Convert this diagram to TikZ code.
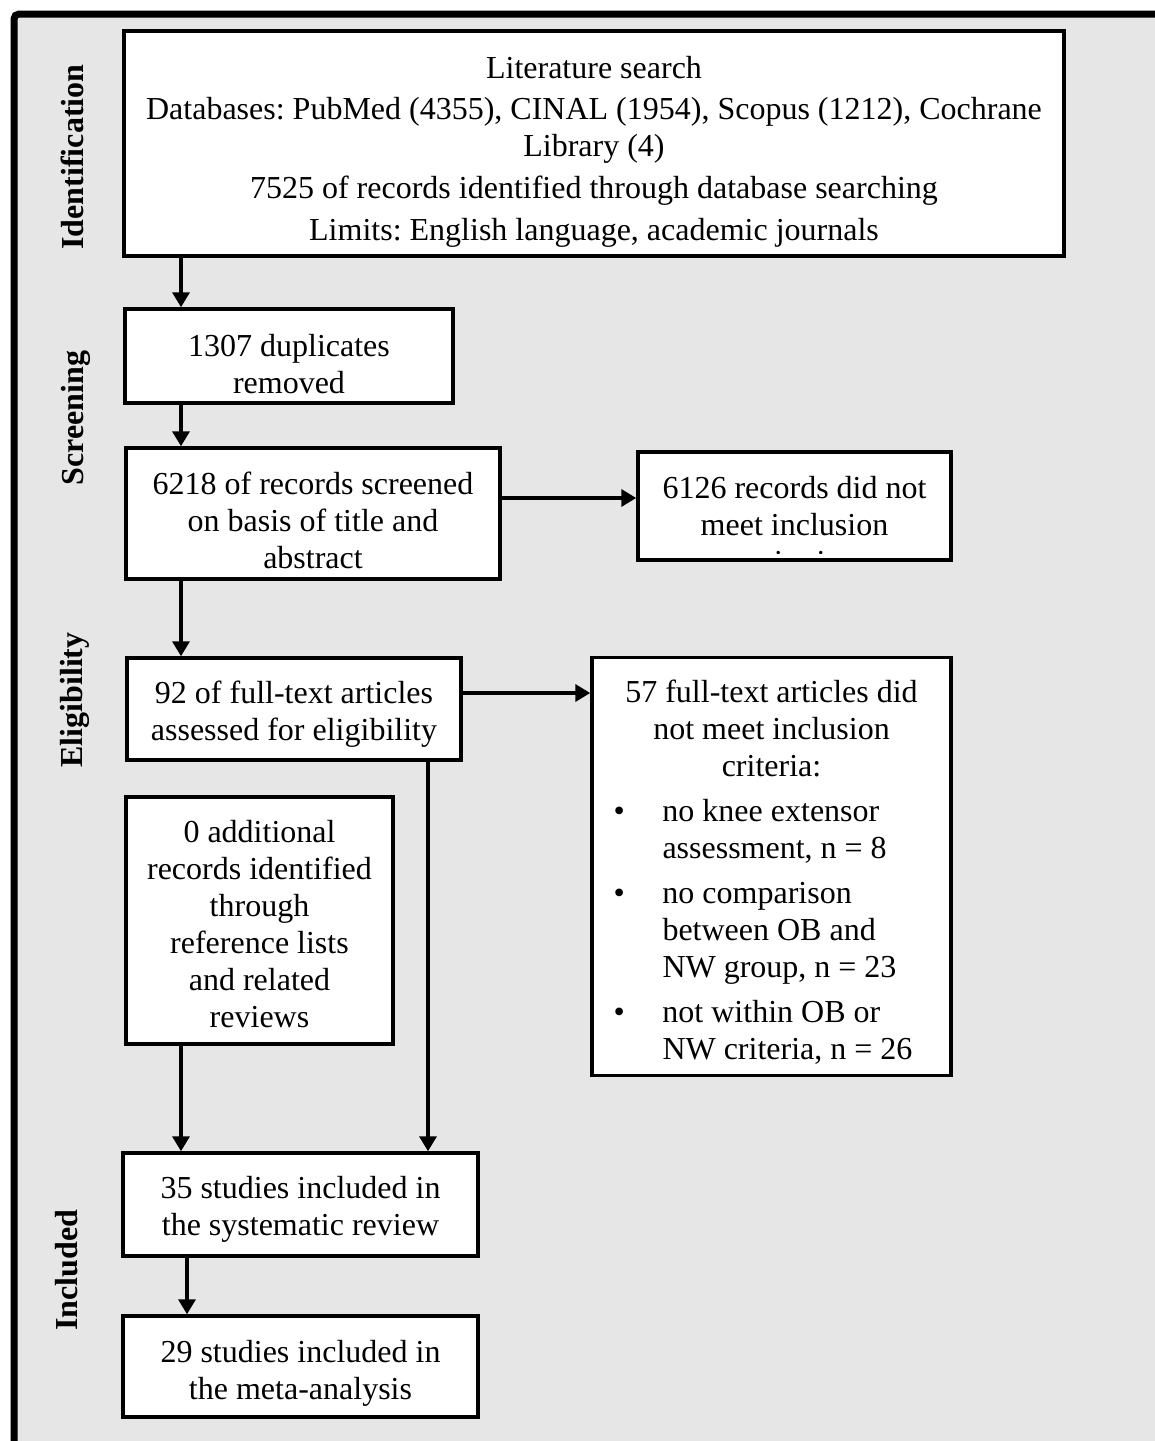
\documentclass[tikz,border=0pt]{standalone}
\usepackage{fontspec}
\setmainfont{Liberation Serif}
\usetikzlibrary{arrows.meta}
\definecolor{bggray}{HTML}{E6E6E6}
\newcommand\fbul[1]{\makebox[316pt][l]{\makebox[49pt][l]{\textbullet}#1}}
\newcommand\fcont[1]{\makebox[316pt][l]{\hspace*{49pt}#1}}
\begin{document}
\frenchspacing
\begin{tikzpicture}[x=1pt,y=-1pt,
  box/.style={draw, line width=3.5pt, fill=white, inner sep=0pt},
  txt/.style={inner sep=0pt, align=center, font=\fontsize{32}{37}\selectfont\frenchspacing},
  arr/.style={line width=3.5pt, -{Triangle[length=15pt,width=17pt]}},
  side/.style={rotate=90, anchor=base, inner sep=0pt, font=\fontsize{32}{37}\selectfont\bfseries}]
\useasboundingbox (0,0) rectangle (1155,1441);
\begin{scope}
  \clip (0,0) rectangle (1155,1441);
  \draw[line width=7pt, fill=bggray, rounded corners=5pt] (14,14) rectangle (1300,1600);
\end{scope}

% side labels
\node[side] (lid) at (83,157) {Identification};
\node[side] (lsc) at (83,418) {Screening};
\node[side] (lel) at (82,700) {Eligibility};
\node[side] (lin) at (77,1270) {Included};

% boxes
\node[box, minimum width=940pt, minimum height=225pt] (A) at (594,143.5) {};
\node[txt] (At) at ([yshift=-8pt]A.center)
  {Literature search\\[4pt]Databases: PubMed (4355), CINAL (1954), Scopus (1212), Cochrane\\Library (4)\\[5pt]7525 of records identified through database searching\\[5pt]Limits: English language, academic journals};

\node[box, minimum width=328pt, minimum height=94pt] (B) at (289,356) {};
\node[txt] (Bt) at ([yshift=-8pt]B.center) {1307 duplicates\\removed};

\node[box, minimum width=374pt, minimum height=131pt] (C) at (313,513.5) {};
\node[txt] (Ct) at ([yshift=-7pt]C.center) {6218 of records screened\\on basis of title and\\abstract};

\node[box, minimum width=313pt, minimum height=108pt] (D) at (794.5,506) {};
\begin{scope}
  \clip (640,454) rectangle (949,553);
  \node[txt] (Dt) at (794.5,525) {6126 records did not\\meet inclusion\\criteria};
\end{scope}

\node[box, minimum width=334pt, minimum height=102pt] (E) at (294,709) {};
\node[txt] (Et) at ([yshift=-5pt]E.center) {92 of full-text articles\\assessed for eligibility};

\node[box, minimum width=359pt, minimum height=418pt] (F) at (771.5,866.5) {};
\node[txt, text width=316pt, align=flush center] (Ft) at ([yshift=-6pt]F.center)
  {57 full-text articles did\\not meet inclusion\\criteria:\\[8pt]
   \fbul{no knee extensor}\\\fcont{assessment, n = 8}\\[8pt]
   \fbul{no comparison}\\\fcont{between OB and}\\\fcont{NW group, n = 23}\\[8pt]
   \fbul{not within OB or}\\\fcont{NW criteria, n = 26}};

\node[box, minimum width=267pt, minimum height=247pt] (G) at (259.5,920.5) {};
\node[txt] (Gt) at ([yshift=-4pt]G.center)
  {0 additional\\records identified\\through\\reference lists\\and related\\reviews};

\node[box, minimum width=355pt, minimum height=103pt] (H) at (300.5,1204.5) {};
\node[txt] (Ht) at ([yshift=-5pt]H.center) {35 studies included in\\the systematic review};

\node[box, minimum width=355pt, minimum height=101pt] (I) at (300.5,1366.5) {};
\node[txt] (It) at ([yshift=-7pt]I.center) {29 studies included in\\the meta-analysis};

% connectors
\draw[arr] (181,0 |- A.south) -- (181,0 |- B.north);
\draw[arr] (181,0 |- B.south) -- (181,0 |- C.north);
\draw[arr] (C.east |- 0,498) -- (D.west |- 0,498);
\draw[arr] (181,0 |- C.south) -- (181,0 |- E.north);
\draw[arr] (E.east |- 0,693) -- (F.west |- 0,693);
\draw[arr] (428,0 |- E.south) -- (428,0 |- H.north);
\draw[arr] (181,0 |- G.south) -- (181,0 |- H.north);
\draw[arr] (187,0 |- H.south) -- (187,0 |- I.north);
\end{tikzpicture}
\end{document}
